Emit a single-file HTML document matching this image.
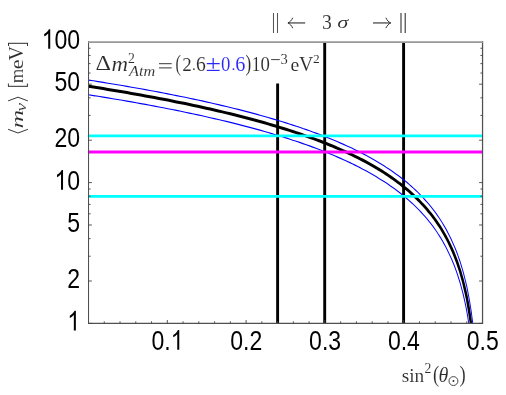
<!DOCTYPE html>
<html><head><meta charset="utf-8">
<style>
html,body{margin:0;padding:0;background:#fff;}
body{width:506px;height:395px;overflow:hidden;position:relative;font-family:"Liberation Serif",serif;}
svg{position:absolute;left:0;top:0;}
.sans text{font-family:"Liberation Sans",sans-serif;font-size:27.5px;}
.ser text{font-family:"Liberation Serif",serif;}
</style></head><body>
<svg width="506" height="395" viewBox="0 0 506 395">
<rect x="0" y="0" width="506" height="395" fill="#fff"/>
<!-- vertical 3 sigma lines -->
<g stroke="#000" stroke-width="2.9" fill="none">
<path d="M277.62,83.5V323.0M324.70,42V323.0M403.60,42V323.0"/>
</g>
<!-- curves -->
<g fill="none" stroke-linejoin="round" transform="scale(0.84,1)">
<path d="M105.4,80.1 L111.2,80.8 L117.0,81.6 L122.8,82.4 L128.5,83.2 L134.2,84.0 L139.9,84.7 L145.5,85.5 L151.1,86.4 L156.6,87.2 L162.1,88.0 L167.6,88.8 L173.1,89.6 L178.5,90.5 L183.8,91.3 L189.2,92.1 L194.5,93.0 L199.7,93.9 L204.9,94.7 L210.1,95.6 L215.3,96.5 L220.4,97.3 L225.5,98.2 L230.5,99.1 L235.5,100.0 L240.5,100.9 L245.4,101.9 L250.3,102.8 L255.1,103.7 L259.9,104.6 L264.7,105.6 L269.5,106.5 L274.2,107.5 L278.9,108.5 L283.5,109.4 L288.1,110.4 L292.6,111.4 L297.2,112.4 L301.7,113.4 L306.1,114.4 L310.5,115.5 L314.9,116.5 L319.2,117.5 L323.5,118.6 L327.8,119.6 L332.0,120.7 L336.2,121.8 L340.4,122.9 L344.5,124.0 L348.6,125.1 L352.7,126.2 L356.7,127.3 L360.6,128.5 L364.6,129.6 L368.5,130.8 L372.3,132.0 L376.2,133.1 L380.0,134.3 L383.7,135.5 L387.4,136.8 L391.1,138.0 L394.8,139.2 L398.4,140.5 L402.0,141.8 L405.5,143.1 L409.0,144.4 L412.4,145.7 L415.9,147.0 L419.3,148.3 L422.6,149.7 L425.9,151.1 L429.2,152.5 L432.5,153.9 L435.7,155.3 L438.8,156.7 L442.0,158.2 L445.1,159.7 L448.1,161.2 L451.1,162.7 L454.1,164.2 L457.1,165.8 L460.0,167.4 L462.9,168.9 L465.7,170.6 L468.5,172.2 L471.3,173.9 L474.0,175.5 L476.7,177.3 L479.3,179.0 L482.0,180.8 L484.6,182.5 L487.1,184.4 L489.6,186.2 L492.1,188.1 L494.5,190.0 L496.9,191.9 L499.3,193.9 L501.6,195.9 L503.9,197.9 L506.1,200.0 L508.4,202.1 L510.5,204.2 L512.7,206.4 L514.8,208.6 L516.9,210.9 L518.9,213.2 L520.9,215.6 L522.9,218.0 L524.8,220.5 L526.7,223.0 L528.5,225.6 L530.3,228.2 L532.1,230.9 L533.8,233.7 L535.5,236.5 L537.2,239.4 L538.8,242.4 L540.4,245.4 L542.0,248.6 L543.5,251.8 L545.0,255.1 L546.4,258.6 L547.9,262.1 L549.2,265.8 L550.6,269.6 L551.9,273.5 L553.1,277.6 L554.4,281.8 L555.6,286.2 L556.7,290.8 L557.8,295.6 L558.9,300.6 L559.9,305.9 L561.0,311.5 L561.9,317.5 L562.8,323.2" stroke="#0000ff" stroke-width="1.15"/>
<path d="M105.4,94.8 L111.2,95.6 L117.0,96.3 L122.8,97.1 L128.5,97.9 L134.2,98.7 L139.9,99.5 L145.5,100.3 L151.1,101.1 L156.6,101.9 L162.1,102.8 L167.6,103.6 L173.1,104.4 L178.5,105.3 L183.8,106.1 L189.2,107.0 L194.5,107.8 L199.7,108.7 L204.9,109.5 L210.1,110.4 L215.3,111.3 L220.4,112.2 L225.5,113.1 L230.5,114.0 L235.5,114.9 L240.5,115.8 L245.4,116.7 L250.3,117.7 L255.1,118.6 L259.9,119.5 L264.7,120.5 L269.5,121.4 L274.2,122.4 L278.9,123.4 L283.5,124.4 L288.1,125.4 L292.6,126.4 L297.2,127.4 L301.7,128.4 L306.1,129.4 L310.5,130.4 L314.9,131.5 L319.2,132.5 L323.5,133.6 L327.8,134.7 L332.0,135.7 L336.2,136.8 L340.4,137.9 L344.5,139.0 L348.6,140.2 L352.7,141.3 L356.7,142.4 L360.6,143.6 L364.6,144.8 L368.5,145.9 L372.3,147.1 L376.2,148.3 L380.0,149.5 L383.7,150.8 L387.4,152.0 L391.1,153.2 L394.8,154.5 L398.4,155.8 L402.0,157.1 L405.5,158.4 L409.0,159.7 L412.4,161.0 L415.9,162.4 L419.3,163.8 L422.6,165.1 L425.9,166.5 L429.2,167.9 L432.5,169.4 L435.7,170.8 L438.8,172.3 L442.0,173.8 L445.1,175.3 L448.1,176.8 L451.1,178.4 L454.1,179.9 L457.1,181.5 L460.0,183.1 L462.9,184.7 L465.7,186.4 L468.5,188.1 L471.3,189.8 L474.0,191.5 L476.7,193.3 L479.3,195.0 L482.0,196.9 L484.6,198.7 L487.1,200.6 L489.6,202.5 L492.1,204.4 L494.5,206.4 L496.9,208.4 L499.3,210.4 L501.6,212.5 L503.9,214.6 L506.1,216.7 L508.4,218.9 L510.5,221.1 L512.7,223.4 L514.8,225.7 L516.9,228.1 L518.9,230.5 L520.9,233.0 L522.9,235.6 L524.8,238.2 L526.7,240.8 L528.5,243.6 L530.3,246.3 L532.1,249.2 L533.8,252.2 L535.5,255.2 L537.2,258.3 L538.8,261.5 L540.4,264.8 L542.0,268.3 L543.5,271.8 L545.0,275.5 L546.4,279.2 L547.9,283.2 L549.2,287.3 L550.6,291.6 L551.9,296.0 L553.1,300.7 L554.4,305.6 L555.6,310.8 L556.7,316.2 L557.8,322.1 L558.0,323.2" stroke="#0000ff" stroke-width="1.15"/>
<path d="M105.4,86.3 L111.2,87.1 L117.0,87.8 L122.8,88.6 L128.5,89.4 L134.2,90.2 L139.9,91.0 L145.5,91.8 L151.1,92.6 L156.6,93.4 L162.1,94.2 L167.6,95.1 L173.1,95.9 L178.5,96.7 L183.8,97.6 L189.2,98.4 L194.5,99.3 L199.7,100.1 L204.9,101.0 L210.1,101.9 L215.3,102.7 L220.4,103.6 L225.5,104.5 L230.5,105.4 L235.5,106.3 L240.5,107.2 L245.4,108.2 L250.3,109.1 L255.1,110.0 L259.9,111.0 L264.7,111.9 L269.5,112.9 L274.2,113.8 L278.9,114.8 L283.5,115.8 L288.1,116.8 L292.6,117.7 L297.2,118.8 L301.7,119.8 L306.1,120.8 L310.5,121.8 L314.9,122.8 L319.2,123.9 L323.5,125.0 L327.8,126.0 L332.0,127.1 L336.2,128.2 L340.4,129.3 L344.5,130.4 L348.6,131.5 L352.7,132.6 L356.7,133.7 L360.6,134.9 L364.6,136.1 L368.5,137.2 L372.3,138.4 L376.2,139.6 L380.0,140.8 L383.7,142.0 L387.4,143.2 L391.1,144.5 L394.8,145.7 L398.4,147.0 L402.0,148.3 L405.5,149.6 L409.0,150.9 L412.4,152.2 L415.9,153.6 L419.3,154.9 L422.6,156.3 L425.9,157.7 L429.2,159.1 L432.5,160.5 L435.7,161.9 L438.8,163.4 L442.0,164.9 L445.1,166.4 L448.1,167.9 L451.1,169.4 L454.1,170.9 L457.1,172.5 L460.0,174.1 L462.9,175.7 L465.7,177.4 L468.5,179.0 L471.3,180.7 L474.0,182.4 L476.7,184.1 L479.3,185.9 L482.0,187.7 L484.6,189.5 L487.1,191.3 L489.6,193.2 L492.1,195.1 L494.5,197.0 L496.9,199.0 L499.3,201.0 L501.6,203.1 L503.9,205.1 L506.1,207.2 L508.4,209.4 L510.5,211.6 L512.7,213.8 L514.8,216.1 L516.9,218.4 L518.9,220.8 L520.9,223.2 L522.9,225.7 L524.8,228.2 L526.7,230.8 L528.5,233.5 L530.3,236.2 L532.1,239.0 L533.8,241.8 L535.5,244.7 L537.2,247.7 L538.8,250.8 L540.4,254.0 L542.0,257.3 L543.5,260.7 L545.0,264.2 L546.4,267.8 L547.9,271.5 L549.2,275.4 L550.6,279.4 L551.9,283.6 L553.1,288.0 L554.4,292.6 L555.6,297.3 L556.7,302.3 L557.8,307.6 L558.9,313.2 L559.9,319.1 L560.6,323.2" stroke="#000" stroke-width="3.0"/>
</g>
<!-- horizontal lines -->
<g fill="none" stroke-width="2.8">
<path d="M88.5,135.8H482.5M88.5,196.4H482.5" stroke="#00ffff"/>
<path d="M88.5,152.0H482.5" stroke="#ff00ff"/>
</g>
<!-- frame -->
<g stroke="#505050" stroke-width="1.15" fill="none">
<path d="M88.55,41V324.0" stroke-width="1.0" stroke="#484848"/><path d="M482.55,41V324.0M88.05,323.4H483.15" stroke-width="1.25"/>
<path d="M88.1,42.0H483.15" stroke="#999" stroke-width="1.75"/>
</g>
<g stroke="#444" stroke-width="0.9" fill="none">
<path d="M88.5,323.40h3.4M482.5,323.40h-3.4"/>
<path d="M88.5,281.01h3.4M482.5,281.01h-3.4"/>
<path d="M88.5,256.22h2.1M482.5,256.22h-2.1"/>
<path d="M88.5,238.63h2.1M482.5,238.63h-2.1"/>
<path d="M88.5,224.99h3.4M482.5,224.99h-3.4"/>
<path d="M88.5,213.84h2.1M482.5,213.84h-2.1"/>
<path d="M88.5,204.41h2.1M482.5,204.41h-2.1"/>
<path d="M88.5,196.24h2.1M482.5,196.24h-2.1"/>
<path d="M88.5,189.04h2.1M482.5,189.04h-2.1"/>
<path d="M88.5,182.60h3.4M482.5,182.60h-3.4"/>
<path d="M88.5,140.21h3.4M482.5,140.21h-3.4"/>
<path d="M88.5,115.42h2.1M482.5,115.42h-2.1"/>
<path d="M88.5,97.83h2.1M482.5,97.83h-2.1"/>
<path d="M88.5,84.19h3.4M482.5,84.19h-3.4"/>
<path d="M88.5,73.04h2.1M482.5,73.04h-2.1"/>
<path d="M88.5,63.61h2.1M482.5,63.61h-2.1"/>
<path d="M88.5,55.44h2.1M482.5,55.44h-2.1"/>
<path d="M88.5,48.24h2.1M482.5,48.24h-2.1"/>
<path d="M104.26,323.4v-2.1"/>
<path d="M120.02,323.4v-2.1"/>
<path d="M135.78,323.4v-2.1"/>
<path d="M151.54,323.4v-2.1"/>
<path d="M167.30,323.4v-3.4"/>
<path d="M183.06,323.4v-2.1"/>
<path d="M198.82,323.4v-2.1"/>
<path d="M214.58,323.4v-2.1"/>
<path d="M230.34,323.4v-2.1"/>
<path d="M246.10,323.4v-3.4"/>
<path d="M261.86,323.4v-2.1"/>
<path d="M277.62,323.4v-2.1"/>
<path d="M293.38,323.4v-2.1"/>
<path d="M309.14,323.4v-2.1"/>
<path d="M324.90,323.4v-3.4"/>
<path d="M340.66,323.4v-2.1"/>
<path d="M356.42,323.4v-2.1"/>
<path d="M372.18,323.4v-2.1"/>
<path d="M387.94,323.4v-2.1"/>
<path d="M403.70,323.4v-3.4"/>
<path d="M419.46,323.4v-2.1"/>
<path d="M435.22,323.4v-2.1"/>
<path d="M450.98,323.4v-2.1"/>
<path d="M466.74,323.4v-2.1"/>
</g>
<g class="sans" fill="#000" style="opacity:0.999">
<path transform="translate(67.29,330.45) scale(23.045,27.500)" d="M0.372 0L0.284 0L0.284 -0.560C0.263 -0.540 0.235 -0.520 0.201 -0.499C0.167 -0.479 0.136 -0.464 0.109 -0.454L0.109 -0.539C0.158 -0.562 0.200 -0.590 0.237 -0.622C0.273 -0.655 0.299 -0.686 0.314 -0.717L0.372 -0.717Z"/>
<text transform="translate(67.29,288.06) scale(0.838,1)">2</text>
<text transform="translate(67.29,232.04) scale(0.838,1)">5</text>
<path transform="translate(54.47,189.65) scale(23.045,27.500)" d="M0.372 0L0.284 0L0.284 -0.560C0.263 -0.540 0.235 -0.520 0.201 -0.499C0.167 -0.479 0.136 -0.464 0.109 -0.454L0.109 -0.539C0.158 -0.562 0.200 -0.590 0.237 -0.622C0.273 -0.655 0.299 -0.686 0.314 -0.717L0.372 -0.717Z"/><text transform="translate(67.29,189.65) scale(0.838,1)">0</text>
<text transform="translate(54.47,147.26) scale(0.838,1)">2</text><text transform="translate(67.29,147.26) scale(0.838,1)">0</text>
<text transform="translate(54.47,91.24) scale(0.838,1)">5</text><text transform="translate(67.29,91.24) scale(0.838,1)">0</text>
<path transform="translate(41.66,48.85) scale(23.045,27.500)" d="M0.372 0L0.284 0L0.284 -0.560C0.263 -0.540 0.235 -0.520 0.201 -0.499C0.167 -0.479 0.136 -0.464 0.109 -0.454L0.109 -0.539C0.158 -0.562 0.200 -0.590 0.237 -0.622C0.273 -0.655 0.299 -0.686 0.314 -0.717L0.372 -0.717Z"/><text transform="translate(54.47,48.85) scale(0.838,1)">0</text><text transform="translate(67.29,48.85) scale(0.838,1)">0</text>
<text transform="translate(151.48,349.75) scale(0.838,1)">0</text><text transform="translate(164.30,349.75) scale(0.838,1)">.</text><path transform="translate(170.70,349.75) scale(23.045,27.500)" d="M0.372 0L0.284 0L0.284 -0.560C0.263 -0.540 0.235 -0.520 0.201 -0.499C0.167 -0.479 0.136 -0.464 0.109 -0.454L0.109 -0.539C0.158 -0.562 0.200 -0.590 0.237 -0.622C0.273 -0.655 0.299 -0.686 0.314 -0.717L0.372 -0.717Z"/>
<text transform="translate(230.28,349.75) scale(0.838,1)">0</text><text transform="translate(243.10,349.75) scale(0.838,1)">.</text><text transform="translate(249.50,349.75) scale(0.838,1)">2</text>
<text transform="translate(309.08,349.75) scale(0.838,1)">0</text><text transform="translate(321.90,349.75) scale(0.838,1)">.</text><text transform="translate(328.30,349.75) scale(0.838,1)">3</text>
<text transform="translate(387.88,349.75) scale(0.838,1)">0</text><text transform="translate(400.70,349.75) scale(0.838,1)">.</text><text transform="translate(407.10,349.75) scale(0.838,1)">4</text>
<text transform="translate(466.68,349.75) scale(0.838,1)">0</text><text transform="translate(479.50,349.75) scale(0.838,1)">.</text><text transform="translate(485.90,349.75) scale(0.838,1)">5</text>
</g>
<g class="ser" fill="#2b2b2b" stroke="#fff" style="opacity:0.999">
<text transform="matrix(0.1964 0 0 0.2052 322.07 28.69)" font-size="100" stroke-width="0.50" >3</text>
<text transform="matrix(0.2242 0 0 0.1763 337.23 28.02)" font-size="100" font-style="italic" stroke-width="0.50" >σ</text>
<text transform="matrix(0.2414 0 0 0.2152 95.49 70.05)" font-size="100" stroke-width="0.44" >Δ</text>
<text transform="matrix(0.2288 0 0 0.2021 111.54 70.50)" font-size="100" font-style="italic" stroke-width="0.46" >m</text>
<text transform="matrix(0.1375 0 0 0.1396 128.08 63.05)" font-size="100" stroke-width="0.72" >2</text>
<text transform="matrix(0.1627 0 0 0.1522 129.09 76.15)" font-size="100" font-style="italic" stroke-width="0.64" >Atm</text>
<text transform="matrix(0.1608 0 0 0.2314 175.58 70.58)" font-size="100" stroke-width="0.51" >(</text>
<text transform="matrix(0.1900 0 0 0.1962 182.15 70.60)" font-size="100" stroke-width="0.52" >2</text>
<text transform="matrix(0.1500 0 0 0.1532 192.03 70.37)" font-size="100" stroke-width="0.66" >.</text>
<text transform="matrix(0.1965 0 0 0.2052 196.06 70.69)" font-size="100" stroke-width="0.50" >6</text>
<text transform="matrix(0.2817 0 0 0.2407 205.60 70.60)" font-size="100" stroke-width="0.38" fill="#2828f8">±</text>
<text transform="matrix(0.1882 0 0 0.2044 220.99 70.70)" font-size="100" stroke-width="0.51" fill="#2828f8">0</text>
<text transform="matrix(0.1583 0 0 0.1532 231.57 70.37)" font-size="100" stroke-width="0.64" fill="#2828f8">.</text>
<text transform="matrix(0.2035 0 0 0.2052 235.24 70.69)" font-size="100" stroke-width="0.49" fill="#2828f8">6</text>
<text transform="matrix(0.1709 0 0 0.2347 245.54 70.81)" font-size="100" stroke-width="0.49" >)</text>
<text transform="matrix(0.1730 0 0 0.2045 251.79 70.60)" font-size="100" stroke-width="0.53" >1</text>
<text transform="matrix(0.1882 0 0 0.2044 260.59 70.70)" font-size="100" stroke-width="0.51" >0</text>
<text transform="matrix(0.1455 0 0 0.1413 280.51 63.76)" font-size="100" stroke-width="0.70" >3</text>
<text transform="matrix(0.1973 0 0 0.1937 290.51 70.61)" font-size="100" stroke-width="0.51" >e</text>
<text transform="matrix(0.1986 0 0 0.2000 299.00 70.60)" font-size="100" stroke-width="0.50" >V</text>
<text transform="matrix(0.1350 0 0 0.1343 313.09 63.40)" font-size="100" stroke-width="0.74" >2</text>
<text transform="matrix(0.1933 0 0 0.1963 401.63 381.50)" font-size="100" stroke-width="0.51" >sin</text>
<text transform="matrix(0.1375 0 0 0.1404 424.58 373.40)" font-size="100" stroke-width="0.72" >2</text>
<text transform="matrix(0.1843 0 0 0.2270 433.07 381.68)" font-size="100" stroke-width="0.49" >(</text>
<text transform="matrix(0.2012 0 0 0.2042 438.39 382.30)" font-size="100" font-style="italic" stroke-width="0.49" >θ</text>
<text transform="matrix(0.1864 0 0 0.2270 459.39 381.68)" font-size="100" stroke-width="0.48" >)</text>
<g transform="rotate(-90)">
<text transform="matrix(0.1986 0 0 0.2149 -60.40 23.38)" font-size="100" stroke-width="0.48" >V</text>
<text transform="matrix(0.2216 0 0 0.1958 -69.19 23.10)" font-size="100" stroke-width="0.48" >e</text>
<text transform="matrix(0.1872 0 0 0.1894 -83.17 23.10)" font-size="100" stroke-width="0.53" >m</text>
<text transform="matrix(0.1930 0 0 0.1383 -111.49 26.06)" font-size="100" font-style="italic" stroke-width="0.60" >ν</text>
<text transform="matrix(0.2599 0 0 0.1702 -128.47 23.30)" font-size="100" font-style="italic" stroke-width="0.46" >m</text>
</g>
</g>
<!-- line-drawn symbols -->
<g stroke="#2b2b2b" fill="none" stroke-width="0.95">
<path d="M273.5,13V32.9M277.5,13V32.9" stroke-width="1.05" stroke="#555"/><path d="M401.0,13V32.9M405.2,13V32.9" stroke-width="1.05"/>
<path d="M287.80,22.95H305.20" stroke-width="1.1"/><path d="M288.00,22.95 C289.60,22.25 291.70,20.349999999999998 292.70,17.75 M288.00,22.95 C289.60,23.65 291.70,25.55 292.70,28.15"/>
<path d="M373.00,22.95H390.80" stroke-width="1.1"/><path d="M390.60,22.95 C389.00,22.25 386.90,20.349999999999998 385.90,17.75 M390.60,22.95 C389.00,23.65 386.90,25.55 385.90,28.15"/>
<path d="M159,63.7H171.7M159,67.9H171.7"/>
<path d="M271.1,59.6H279.8" stroke-width="0.9"/>
<!-- y label brackets -->
<path d="M8.5,43.2V46M27.5,43.2V46" />
<path d="M8,43.3H28" stroke-width="1"/>
<path d="M8.4,86.4V83.5M27.4,86.4V83.5" />
<path d="M8,86.3H27.8" stroke-width="1"/>
<path d="M8.1,100.9L18,97.2L27.9,100.9"/>
<path d="M8.1,129.3L18,133.0L27.9,129.3"/>
<circle cx="453.45" cy="381.05" r="4.45" stroke-width="0.85"/>
</g>
<circle cx="453.45" cy="381.05" r="0.95" fill="#2b2b2b"/>
</svg>
</body></html>
